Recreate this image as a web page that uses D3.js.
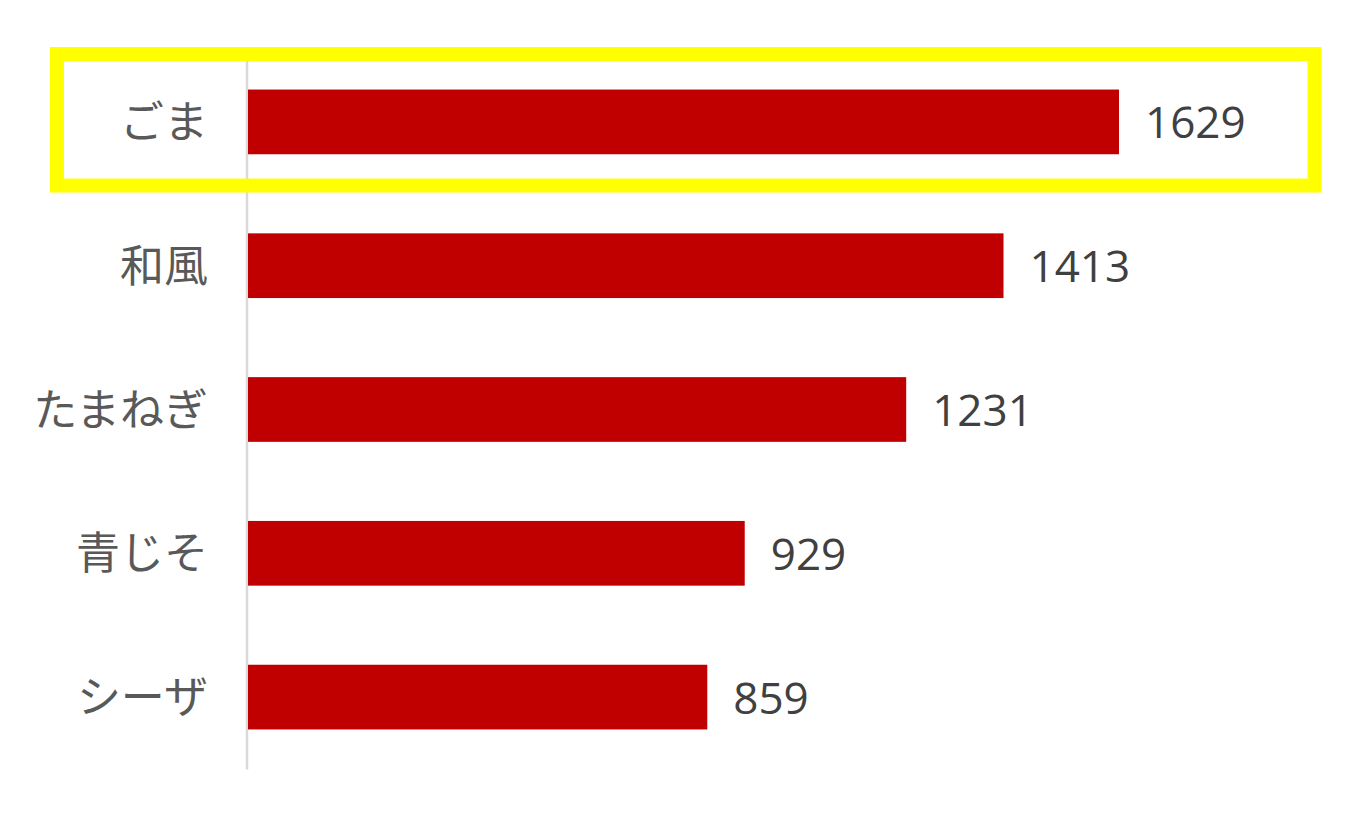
<!DOCTYPE html>
<html>
<head>
<meta charset="utf-8">
<script src="https://cdn.jsdelivr.net/npm/d3@7"></script>
<style>
html,body{margin:0;padding:0;background:#fff;}
svg{display:block;}
text{font-family:"Noto Sans CJK JP","Noto Sans",sans-serif;}
text.val{font-family:"Open Sans","Noto Sans",sans-serif;}
</style>
</head>
<body>
<svg id="chart" width="1368" height="820"></svg>
<script>
const categories = ["ごま", "和風", "たまねぎ", "青じそ", "シーザ"];
const values = [1629, 1413, 1231, 929, 859];
const highlighted = ["ごま"];

const svg = d3.select("#chart");
const x = d3.scaleLinear().domain([0, 1629]).range([248, 1119]);
const y = d3.scaleBand().domain(categories).range([50, 769]).paddingInner(0.55).paddingOuter(0.275);

// axis line
const yAxis = d3.axisLeft(y).tickSize(0).tickFormat("");
const axG = svg.append("g").attr("transform", "translate(246.5,0)").call(yAxis);
axG.select(".domain").attr("stroke", "#d9d9d9").attr("stroke-width", 2.5);

const data = categories.map((c, i) => ({c, v: values[i]}));

svg.append("g").selectAll("rect").data(data).join("rect")
  .attr("x", x(0))
  .attr("y", d => y(d.c))
  .attr("width", d => x(d.v) - x(0))
  .attr("height", y.bandwidth())
  .attr("fill", "#C00000");

svg.append("g").selectAll("text").data(data).join("text")
  .attr("x", 208)
  .attr("y", d => y(d.c) + y.bandwidth() / 2 + 16)
  .attr("text-anchor", "end")
  .attr("font-size", 44)
  .attr("fill", "#595959")
  .text(d => d.c);

svg.append("g").selectAll("text").data(data).join("text")
  .attr("class", "val")
  .attr("x", d => x(d.v) + 26)
  .attr("y", d => y(d.c) + y.bandwidth() / 2 + 16.5)
  .attr("font-size", 44)
  .attr("fill", "#404040")
  .text(d => d.v);

// highlight box
svg.append("g").selectAll("rect").data(data.filter(d => highlighted.includes(d.c))).join("rect")
  .attr("x", 57)
  .attr("y", d => y(d.c) - 35.5)
  .attr("width", 1257.5)
  .attr("height", 131.5)
  .attr("fill", "none")
  .attr("stroke", "#FFFF00")
  .attr("stroke-width", 14);
</script>
</body>
</html>
